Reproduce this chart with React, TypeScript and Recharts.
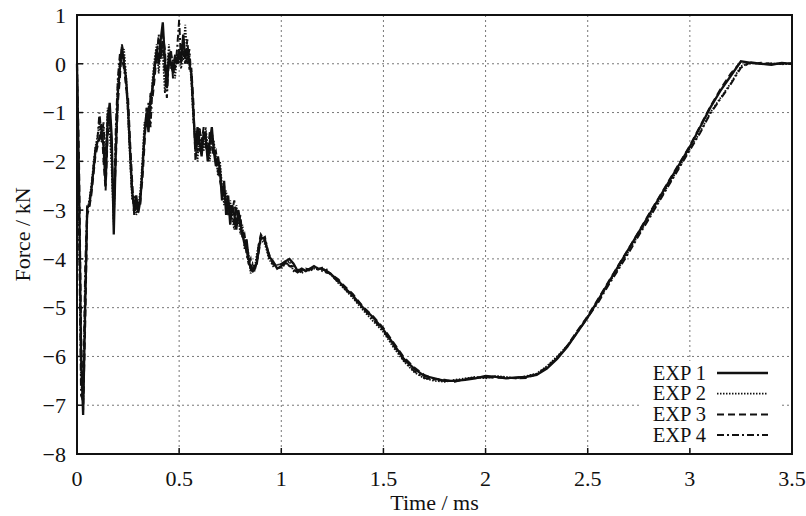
import React from 'react';
import {
  LineChart, Line, XAxis, YAxis, CartesianGrid, ReferenceArea, Legend, Label,
} from 'recharts';

const TIME = [
  0.00, 0.01, 0.02, 0.03, 0.04, 0.05, 0.06, 0.07, 0.08, 0.09,
  0.10, 0.11, 0.12, 0.13, 0.14, 0.15, 0.16, 0.17, 0.18, 0.19,
  0.20, 0.21, 0.22, 0.23, 0.24, 0.25, 0.26, 0.27, 0.28, 0.29,
  0.30, 0.31, 0.32, 0.33, 0.34, 0.35, 0.36, 0.37, 0.38, 0.39,
  0.40, 0.41, 0.42, 0.43, 0.44, 0.45, 0.46, 0.47, 0.48, 0.49,
  0.50, 0.51, 0.52, 0.53, 0.54, 0.55, 0.56, 0.57, 0.58, 0.59,
  0.60, 0.61, 0.62, 0.63, 0.64, 0.65, 0.66, 0.67, 0.68, 0.69,
  0.70, 0.71, 0.72, 0.73, 0.74, 0.75, 0.76, 0.77, 0.78, 0.79,
  0.80, 0.81, 0.82, 0.83, 0.84, 0.85, 0.86, 0.87, 0.88, 0.89,
  0.90,
  0.92, 0.94, 0.96, 0.98, 1.00, 1.02, 1.04, 1.06, 1.08, 1.10,
  1.12, 1.14, 1.16, 1.18, 1.20, 1.22, 1.24, 1.26, 1.28, 1.30,
  1.35, 1.40, 1.45, 1.50, 1.55, 1.60, 1.65, 1.70, 1.75, 1.80,
  1.85, 1.90, 1.95, 2.00, 2.05, 2.10, 2.15, 2.20, 2.25, 2.30,
  2.35, 2.40, 2.45, 2.50, 2.55, 2.60, 2.65, 2.70, 2.75, 2.80,
  2.85, 2.90, 2.95, 3.00, 3.05, 3.10, 3.15, 3.20, 3.25, 3.30,
  3.35, 3.40, 3.45, 3.50,
];

const EXP1 = [
  0.0, -2.5, -6.0, -7.2, -5.0, -2.95, -2.9, -2.6, -2.2, -1.8,
  -1.6, -1.55, -1.4, -1.7, -2.5, -1.2, -0.8, -1.5, -3.5, -1.8,
  -0.6, -0.1, 0.35, 0.0, -0.3, -0.9, -1.8, -2.6, -3.0, -2.7,
  -3.05, -2.8, -2.2, -1.5, -1.0, -1.4, -0.7, -0.5, -0.1, 0.3,
  0.0, 0.5, 0.85, 0.1, -0.5, 0.2, 0.0, -0.2, 0.15, 0.0,
  0.3, 0.05, 0.6, 0.1, 0.3, 0.0, -0.2, -1.0, -1.8, -1.3,
  -1.6, -1.9, -1.4, -1.5, -2.0, -1.6, -1.3, -1.8, -2.1, -1.9,
  -2.2, -2.8, -2.4, -3.1, -2.7, -3.3, -2.9, -3.1, -3.4, -3.0,
  -3.3, -3.5, -3.7, -3.6, -4.0, -4.2, -4.25, -4.15, -4.1, -3.8,
  -3.55,
  -3.6, -3.95, -4.05, -4.2, -4.15, -4.05, -4.0, -4.1, -4.25, -4.2,
  -4.25, -4.2, -4.15, -4.2, -4.2, -4.25, -4.3, -4.38, -4.45, -4.55,
  -4.75, -5.0, -5.2, -5.45, -5.75, -6.05, -6.25, -6.4, -6.45, -6.5,
  -6.5, -6.48, -6.45, -6.4, -6.42, -6.45, -6.43, -6.42, -6.38, -6.25,
  -6.05, -5.8, -5.5, -5.2, -4.85, -4.5, -4.15, -3.8, -3.45, -3.1,
  -2.75, -2.4, -2.05, -1.7, -1.3, -0.9, -0.55, -0.25, 0.05, 0.02,
  0.0, -0.02, 0.02, 0.0,
];

const EXP2 = [
  -0.1, -3.0, -6.5, -7.0, -4.6, -3.0, -2.8, -2.5, -2.1, -1.7,
  -1.5, -1.2, -1.6, -1.3, -1.9, -0.9, -1.4, -2.2, -3.3, -1.5,
  -0.4, 0.1, 0.2, 0.3, -0.2, -1.1, -2.0, -2.8, -2.7, -3.1,
  -2.9, -2.6, -2.0, -1.2, -1.3, -0.9, -1.1, -0.3, 0.1, 0.4,
  -0.2, 0.3, 0.2, -0.6, -0.2, 0.4, -0.1, 0.1, -0.3, 0.2,
  0.1, -0.1, 0.3, 0.8, 0.1, 0.2, -0.4, -1.2, -1.5, -2.0,
  -1.4, -1.5, -1.8, -1.3, -1.7, -2.0, -1.5, -1.6, -1.9, -2.3,
  -2.0, -2.5, -2.9, -2.6, -3.0, -2.8, -3.2, -3.4, -2.9, -3.2,
  -3.5, -3.3, -3.8, -3.7, -3.9, -4.3, -4.1, -4.2, -3.9, -3.7,
  -3.6,
  -3.7, -4.0, -4.15, -4.1, -4.2, -4.1, -4.05, -4.25, -4.2, -4.3,
  -4.2, -4.25, -4.2, -4.18, -4.25, -4.2, -4.32, -4.4, -4.5, -4.58,
  -4.8, -5.05, -5.28, -5.5, -5.82, -6.1, -6.32, -6.45, -6.5, -6.52,
  -6.48, -6.45, -6.42, -6.45, -6.4, -6.42, -6.45, -6.4, -6.35, -6.2,
  -6.0, -5.78, -5.48, -5.18, -4.88, -4.52, -4.2, -3.85, -3.5, -3.15,
  -2.8, -2.45, -2.1, -1.75, -1.4, -1.0, -0.7, -0.4, -0.05, 0.02,
  0.0, 0.01, -0.01, 0.0,
];

const EXP3 = [
  0.0, -2.0, -5.5, -7.1, -5.4, -3.1, -2.95, -2.7, -2.3, -1.9,
  -1.7, -1.5, -1.2, -2.0, -2.6, -1.5, -1.0, -1.8, -3.0, -2.0,
  -0.8, -0.3, 0.4, 0.1, -0.5, -0.7, -1.6, -2.4, -3.1, -2.9,
  -3.0, -2.7, -2.4, -1.7, -0.9, -1.2, -0.6, -0.7, -0.3, 0.2,
  0.5, 0.1, 0.6, 0.3, -0.4, 0.0, 0.3, -0.3, 0.2, 0.1,
  0.0, 0.4, 0.2, 0.0, 0.5, -0.1, -0.1, -0.8, -2.0, -1.5,
  -1.8, -1.6, -1.3, -1.7, -1.8, -1.4, -1.7, -1.9, -1.8, -2.1,
  -2.4, -2.6, -2.5, -2.9, -2.8, -3.1, -3.0, -2.8, -3.2, -3.3,
  -3.1, -3.6, -3.5, -3.8, -4.1, -4.0, -4.3, -4.2, -4.0, -3.7,
  -3.5,
  -3.65, -3.9, -4.1, -4.15, -4.1, -4.05, -4.15, -4.15, -4.25, -4.25,
  -4.2, -4.22, -4.18, -4.22, -4.18, -4.28, -4.3, -4.36, -4.42, -4.52,
  -4.72, -4.98, -5.18, -5.42, -5.72, -6.02, -6.22, -6.38, -6.46, -6.48,
  -6.52, -6.46, -6.44, -6.42, -6.44, -6.43, -6.45, -6.44, -6.36, -6.22,
  -6.02, -5.78, -5.47, -5.17, -4.83, -4.48, -4.13, -3.79, -3.44, -3.08,
  -2.73, -2.38, -2.03, -1.68, -1.28, -0.88, -0.52, -0.2, 0.04, 0.0,
  0.02, 0.0, 0.0, 0.01,
];

const EXP4 = [
  0.0, -3.5, -6.8, -6.9, -4.2, -2.9, -2.85, -2.55, -2.15, -1.75,
  -1.55, -1.0, -1.5, -1.2, -2.2, -1.0, -0.9, -1.9, -3.2, -1.3,
  -0.3, 0.2, 0.1, -0.1, -0.4, -1.0, -1.9, -2.7, -2.9, -3.0,
  -2.8, -2.9, -2.1, -1.4, -1.1, -0.8, -1.3, -0.4, 0.0, 0.1,
  0.6, 0.2, 0.4, -0.2, -0.7, 0.1, 0.2, 0.0, -0.1, 0.3,
  0.9, 0.0, 0.1, 0.3, 0.0, 0.3, -0.3, -1.1, -1.6, -1.8,
  -1.3, -1.7, -1.6, -1.4, -1.9, -1.8, -1.4, -1.7, -2.0, -2.2,
  -2.1, -2.7, -2.6, -2.8, -3.1, -2.9, -3.1, -3.3, -3.0, -3.1,
  -3.4, -3.4, -3.6, -3.9, -4.1, -4.15, -4.2, -4.25, -4.05, -3.85,
  -3.6,
  -3.55, -3.95, -4.1, -4.18, -4.18, -4.08, -4.12, -4.22, -4.28, -4.22,
  -4.24, -4.2, -4.2, -4.2, -4.22, -4.24, -4.3, -4.4, -4.48, -4.56,
  -4.78, -5.02, -5.24, -5.48, -5.78, -6.08, -6.3, -6.44, -6.48, -6.5,
  -6.5, -6.47, -6.43, -6.43, -6.41, -6.44, -6.44, -6.41, -6.37, -6.23,
  -6.03, -5.8, -5.5, -5.2, -4.9, -4.55, -4.22, -3.88, -3.52, -3.18,
  -2.82, -2.47, -2.12, -1.77, -1.42, -1.02, -0.72, -0.42, -0.08, 0.03,
  0.0, -0.01, 0.01, 0.0,
];

const X_TICKS = [0, 0.5, 1, 1.5, 2, 2.5, 3, 3.5];
const Y_TICKS = [-8, -7, -6, -5, -4, -3, -2, -1, 0, 1];
const SERIES_NAMES = ['EXP 1', 'EXP 2', 'EXP 3', 'EXP 4'];
const SERIES_KEYS = ['exp1', 'exp2', 'exp3', 'exp4'];

const STYLES = [
  { width: 2.3, dash: undefined as string | undefined },
  { width: 1.8, dash: '1.5 1.5' },
  { width: 2, dash: '7 4' },
  { width: 2, dash: '7 3 2 3' },
];

const data = TIME.map((t, i) => ({
  t,
  exp1: EXP1[i],
  exp2: EXP2[i],
  exp3: EXP3[i],
  exp4: EXP4[i],
}));

const FONT = '"Liberation Serif", "DejaVu Serif", Times, serif';
const INK = '#111';

const fmtY = (v: number) => (v < 0 ? '\u2212' + Math.abs(v) : String(v));

const LegendBox = () => (
  <svg width={140} height={86} style={{ display: 'block' }}>
    <rect x={0} y={0} width={140} height={86} fill="#fff" />
    {SERIES_NAMES.map((name, i) => {
      const cy = 12 + i * 20.7;
      return (
        <g key={name}>
          <text x={66} y={cy} dy="0.33em" textAnchor="end" fontFamily={FONT} fontSize={20.5} fill={INK}>
            {name}
          </text>
          <line x1={77} x2={128} y1={cy} y2={cy} stroke={INK} strokeWidth={STYLES[i].width} strokeDasharray={STYLES[i].dash} />
        </g>
      );
    })}
  </svg>
);

export default function App() {
  return (
    <div style={{ position: 'absolute', left: 0, top: 0, width: 806, height: 516, background: '#fff' }}>
      <LineChart
        width={806}
        height={516}
        data={data}
        margin={{ top: 15, right: 14, bottom: 22, left: 17 }}
      >
        <CartesianGrid stroke="#777" strokeDasharray="2 3" strokeWidth={1} />
        <XAxis
          dataKey="t"
          type="number"
          domain={[0, 3.5]}
          ticks={X_TICKS}
          height={40}
          tickSize={-6}
          tickMargin={22}
          axisLine={{ stroke: INK, strokeWidth: 2 }}
          tickLine={{ stroke: INK, strokeWidth: 1.5 }}
          tick={{ fill: INK, fontSize: 22, fontFamily: FONT }}
          interval={0}
        >
          <Label
            content={({ viewBox }: any) => (
              <text
                x={viewBox.x + viewBox.width / 2}
                y={510}
                textAnchor="middle"
                fontFamily={FONT}
                fontSize={22}
                fill={INK}
              >
                Time / ms
              </text>
            )}
          />
        </XAxis>
        <XAxis
          xAxisId="top"
          orientation="top"
          dataKey="t"
          type="number"
          domain={[0, 3.5]}
          ticks={X_TICKS}
          height={0}
          tickSize={-6}
          tick={false}
          axisLine={{ stroke: INK, strokeWidth: 2 }}
          tickLine={{ stroke: INK, strokeWidth: 1.5 }}
        />
        <YAxis
          type="number"
          domain={[-8, 1]}
          ticks={Y_TICKS}
          width={60}
          tickSize={-6}
          tickMargin={17}
          tickFormatter={fmtY}
          axisLine={{ stroke: INK, strokeWidth: 2 }}
          tickLine={{ stroke: INK, strokeWidth: 1.5 }}
          tick={{ fill: INK, fontSize: 22, fontFamily: FONT }}
          interval={0}
        >
          <Label
            content={({ viewBox }: any) => {
              const cx = 30;
              const cy = viewBox.y + viewBox.height / 2;
              return (
                <text
                  x={cx}
                  y={cy}
                  transform={`rotate(-90, ${cx}, ${cy})`}
                  textAnchor="middle"
                  fontFamily={FONT}
                  fontSize={22}
                  fill={INK}
                >
                  Force / kN
                </text>
              );
            }}
          />
        </YAxis>
        <YAxis
          yAxisId="right"
          orientation="right"
          type="number"
          domain={[-8, 1]}
          ticks={Y_TICKS}
          width={0}
          tickSize={-6}
          tick={false}
          axisLine={{ stroke: INK, strokeWidth: 2 }}
          tickLine={{ stroke: INK, strokeWidth: 1.5 }}
        />
        {SERIES_KEYS.map((k, i) => (
          <Line
            key={k}
            type="linear"
            dataKey={k}
            name={SERIES_NAMES[i]}
            stroke={INK}
            strokeWidth={STYLES[i].width}
            strokeDasharray={STYLES[i].dash}
            dot={false}
            activeDot={false}
            isAnimationActive={false}
          />
        ))}
        <ReferenceArea x1={0} x2={3.5} y1={-8} y2={1} fill="none" stroke={INK} strokeWidth={2} ifOverflow="visible" />
        <Legend
          layout="horizontal"
          verticalAlign="middle"
          align="center"
          wrapperStyle={{ position: 'absolute', left: 640, top: 361, width: 140, height: 86 }}
          content={() => <LegendBox />}
        />
      </LineChart>
    </div>
  );
}
